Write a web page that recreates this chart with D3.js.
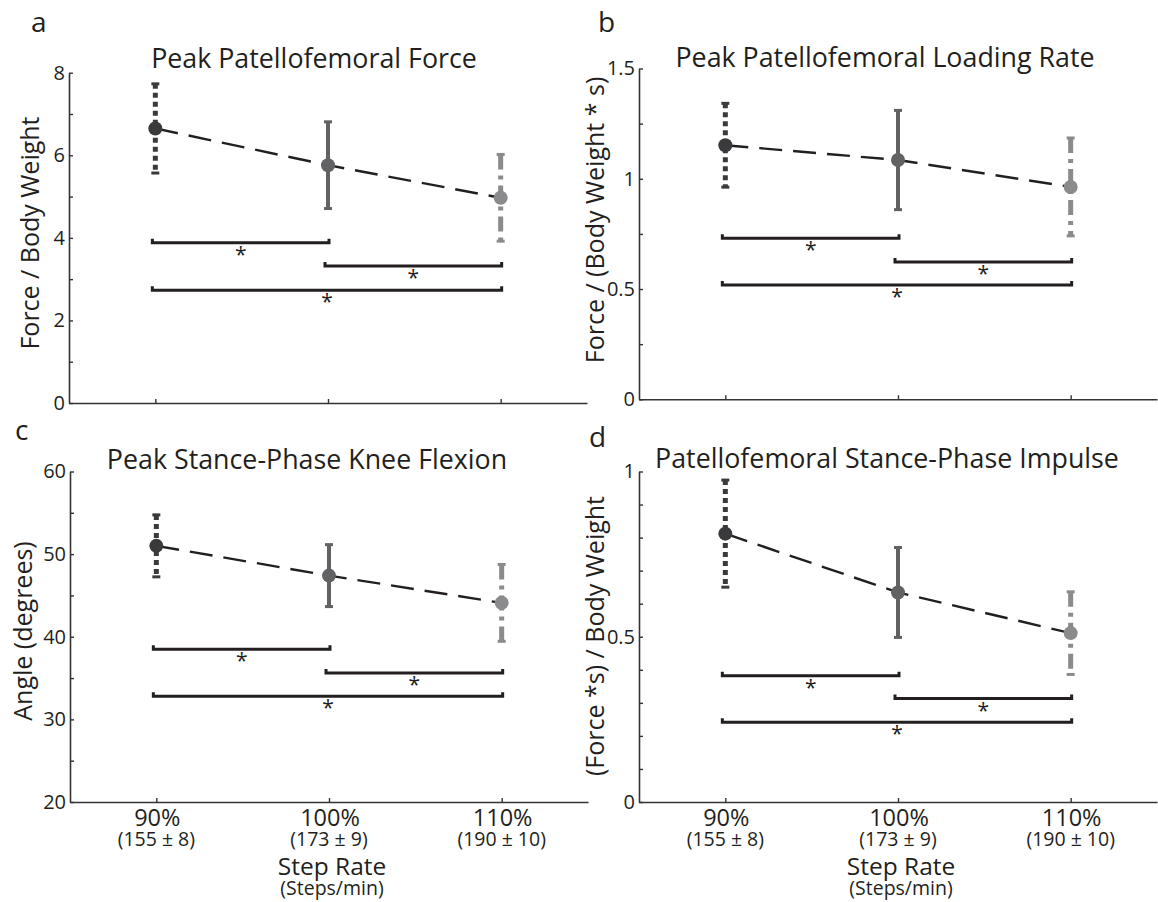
<!DOCTYPE html>
<html>
<head>
<meta charset="utf-8">
<script src="https://cdn.jsdelivr.net/npm/d3@7"></script>
<style>
  body { margin: 0; background: #fff; }
  svg { font-family: "Open Sans", sans-serif; }
</style>
</head>
<body>
<svg id="fig" width="1158" height="902"></svg>
<script>
// step rate conditions
const categories = [1, 2, 3];
const rateLabels = ["90%", "100%", "110%"];
const rateSteps = ["(155 \u00b1 8)", "(173 \u00b1 9)", "(190 \u00b1 10)"];

// a - peak patellofemoral force (BW)
const forceMean = [6.65, 5.76, 4.97];
const forceSD = [1.08, 1.05, 1.05];
const forceSig = [3.88, 3.32, 2.73];
const forceTicks = [0, 1, 2, 3, 4, 5, 6, 7, 8];
const forceLabels = [0, 2, 4, 6, 8];

// b - peak loading rate (BW/s)
const rateMean = [1.152, 1.085, 0.963];
const rateSD = [0.19, 0.225, 0.222];
const rateSig = [0.73, 0.623, 0.518];
const rateTicks = [0, 0.25, 0.5, 0.75, 1, 1.25, 1.5];
const rateTickLabels = [0, 0.5, 1, 1.5];

// c - peak knee flexion (deg)
const flexMean = [51.0, 47.4, 44.1];
const flexSD = [3.75, 3.75, 4.65];
const flexSig = [38.5, 35.6, 32.8];
const flexTicks = [20, 25, 30, 35, 40, 45, 50, 55, 60];
const flexLabels = [20, 30, 40, 50, 60];

// d - stance phase impulse (BW*s)
const impMean = [0.812, 0.634, 0.511];
const impSD = [0.162, 0.136, 0.125];
const impSig = [0.382, 0.313, 0.241];
const impTicks = [0, 0.1, 0.2, 0.3, 0.4, 0.5, 0.6, 0.7, 0.8, 0.9, 1];
const impLabels = [0, 0.5, 1];

// which conditions each bracket joins
const sigPairs = [[1, 2], [2, 3], [1, 3]];

const ink = "#231f20";
const barColors = ["#3a3a3c", "#626264", "#8b8b8d"];
const barDash = ["5,4", null, "15,6,4,6"];
const barWidth = [5, 4, 5];

const svg = d3.select("#fig");

function drawPanel(p) {
  const g = svg.append("g");
  const x = d3.scaleLinear().domain([0.5, 3.5]).range([p.left, p.right]);
  const y = d3.scaleLinear().domain(p.domain).range([p.bottom, p.top]);
  const fmt = d3.format("~g");

  const yAxis = d3.axisLeft(y)
    .tickValues(p.ticks)
    .tickSize(-4)
    .tickSizeOuter(0)
    .tickPadding(4)
    .tickFormat(v => p.labels.includes(v) ? fmt(v) : "");
  const ya = g.append("g").attr("transform", `translate(${p.left},0)`).call(yAxis);

  const xAxis = d3.axisBottom(x)
    .tickValues(categories)
    .tickSize(-4)
    .tickSizeOuter(0)
    .tickFormat("");
  const xa = g.append("g").attr("transform", `translate(0,${p.bottom})`).call(xAxis);

  [ya, xa].forEach(a => {
    a.select(".domain").attr("stroke", "#333").attr("stroke-width", 1.6);
    a.selectAll(".tick line").attr("stroke", "#333").attr("stroke-width", 1.4);
    a.selectAll("text").attr("font-family", "'Open Sans', sans-serif")
      .attr("font-size", 20).attr("fill", ink);
  });

  // mean trend line
  g.append("path")
    .datum(categories)
    .attr("fill", "none")
    .attr("stroke", ink)
    .attr("stroke-width", 2.4)
    .attr("stroke-dasharray", "23,11")
    .attr("d", d3.line().x(d => x(d)).y((d, i) => y(p.mean[i])));

  // error bars
  categories.forEach((c, i) => {
    const lo = y(p.mean[i] - p.sd[i]), hi = y(p.mean[i] + p.sd[i]);
    g.append("line")
      .attr("x1", x(c)).attr("x2", x(c))
      .attr("y1", hi).attr("y2", lo)
      .attr("stroke", barColors[i])
      .attr("stroke-width", barWidth[i])
      .attr("stroke-dasharray", barDash[i]);
    [hi, lo].forEach(v => {
      g.append("line")
        .attr("x1", x(c) - 4).attr("x2", x(c) + 4)
        .attr("y1", v).attr("y2", v)
        .attr("stroke", barColors[i]).attr("stroke-width", 3);
    });
  });

  g.selectAll("circle.mean")
    .data(categories)
    .join("circle")
    .attr("class", "mean")
    .attr("cx", d => x(d))
    .attr("cy", (d, i) => y(p.mean[i]))
    .attr("r", 7)
    .attr("fill", (d, i) => barColors[i]);

  // significance brackets
  sigPairs.forEach((pr, k) => {
    const x1 = x(pr[0]) - 3, x2 = x(pr[1]) + 1, yy = y(p.sig[k]);
    g.append("path")
      .attr("d", `M${x1},${yy - 4}V${yy}H${x2}V${yy - 4}`)
      .attr("fill", "none")
      .attr("stroke", ink)
      .attr("stroke-width", 3);
    g.append("text")
      .attr("x", (x1 + x2) / 2)
      .attr("y", yy + 19)
      .attr("text-anchor", "middle")
      .attr("font-size", 21)
      .attr("fill", ink)
      .text("*");
  });

  g.append("text")
    .attr("x", p.titleX).attr("y", p.titleY)
    .attr("text-anchor", "middle")
    .attr("font-size", 26.8)
    .attr("fill", ink)
    .text(p.title);

  g.append("text")
    .attr("x", p.letterX).attr("y", p.letterY)
    .attr("font-size", 28)
    .attr("fill", ink)
    .text(p.letter);

  g.append("text")
    .attr("transform", `translate(${p.ylabX},${p.ylabY}) rotate(-90)`)
    .attr("text-anchor", "middle")
    .attr("dy", "0.35em")
    .attr("font-size", 25)
    .attr("fill", ink)
    .text(p.ylabel);

  if (p.xlabels) {
    const lab = g.append("g").attr("text-anchor", "middle").attr("fill", ink);
    lab.selectAll("text.pct").data(categories).join("text")
      .attr("class", "pct")
      .attr("x", d => x(d) + 1).attr("y", p.bottom + 24)
      .attr("font-size", 23.5)
      .text((d, i) => rateLabels[i]);
    lab.selectAll("text.spm").data(categories).join("text")
      .attr("class", "spm")
      .attr("x", d => x(d)).attr("y", p.bottom + 44)
      .attr("font-size", 19.5)
      .text((d, i) => rateSteps[i]);
    lab.append("text")
      .attr("x", x(2) + 3).attr("y", p.bottom + 73)
      .attr("font-size", 24.5)
      .text("Step Rate");
    lab.append("text")
      .attr("x", x(2) + 3).attr("y", p.bottom + 93)
      .attr("font-size", 19.5)
      .text("(Steps/min)");
  }
}

drawPanel({
  left: 69, right: 587, top: 72.7, bottom: 403,
  domain: [0, 8], ticks: forceTicks, labels: forceLabels,
  mean: forceMean, sd: forceSD, sig: forceSig,
  title: "Peak Patellofemoral Force", titleX: 314, titleY: 68,
  letter: "a", letterX: 31, letterY: 32,
  ylabel: "Force / Body Weight", ylabX: 30, ylabY: 233,
  xlabels: false
});

drawPanel({
  left: 639, right: 1157, top: 68.5, bottom: 399.3,
  domain: [0, 1.5], ticks: rateTicks, labels: rateTickLabels,
  mean: rateMean, sd: rateSD, sig: rateSig,
  title: "Peak Patellofemoral Loading Rate", titleX: 885, titleY: 67,
  letter: "b", letterX: 598, letterY: 32,
  ylabel: "Force / (Body Weight * s)", ylabX: 595, ylabY: 220,
  xlabels: false
});

drawPanel({
  left: 70, right: 588, top: 471.5, bottom: 802,
  domain: [20, 60], ticks: flexTicks, labels: flexLabels,
  mean: flexMean, sd: flexSD, sig: flexSig,
  title: "Peak Stance-Phase Knee Flexion", titleX: 307, titleY: 469,
  letter: "c", letterX: 15, letterY: 440,
  ylabel: "Angle (degrees)", ylabX: 23, ylabY: 631,
  xlabels: true
});

drawPanel({
  left: 639, right: 1157, top: 471.5, bottom: 802,
  domain: [0, 1], ticks: impTicks, labels: impLabels,
  mean: impMean, sd: impSD, sig: impSig,
  title: "Patellofemoral Stance-Phase Impulse", titleX: 887, titleY: 468,
  letter: "d", letterX: 589, letterY: 447,
  ylabel: "(Force *s) / Body Weight", ylabX: 595, ylabY: 636,
  xlabels: true
});
</script>
</body>
</html>
